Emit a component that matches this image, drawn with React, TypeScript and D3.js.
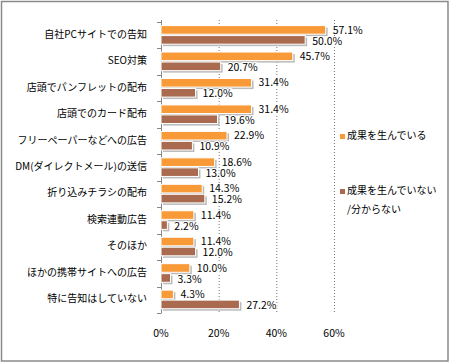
import React from "react";
import * as d3 from "d3";

const categories = [
  "自社PCサイトでの告知",
  "SEO対策",
  "店頭でパンフレットの配布",
  "店頭でのカード配布",
  "フリーペーパーなどへの広告",
  "DM(ダイレクトメール)の送信",
  "折り込みチラシの配布",
  "検索連動広告",
  "そのほか",
  "ほかの携帯サイトへの広告",
  "特に告知はしていない",
];
const seriesA = [57.1, 45.7, 31.4, 31.4, 22.9, 18.6, 14.3, 11.4, 11.4, 10.0, 4.3];
const seriesB = [50.0, 20.7, 12.0, 19.6, 10.9, 13.0, 15.2, 2.2, 12.0, 3.3, 27.2];
const seriesNames = ["成果を生んでいる", "成果を生んでいない", "/分からない"];
const xTicks = [0, 20, 40, 60];

const W = 450;
const H = 363;
const colorA = "#F89A38";
const colorB = "#A96A4F";
const FONT = "'Noto Sans CJK JP', sans-serif";

export default function App() {
  const x = d3.scaleLinear().domain([0, 60]).range([161, 334]);
  const y = d3.scaleBand<number>().domain(d3.range(categories.length)).range([22, 313]);
  const bw = y.bandwidth();
  const barH = 8.6;
  const gap = 1.4;
  const off = bw * 0.135;

  return (
    <svg width={W} height={H} style={{ position: "absolute", left: 0, top: 0 }}>
      <rect x={0} y={0} width={W} height={H} fill="#fff" />
      <rect x={1.5} y={1.5} width={446.5} height={359.5} fill="none" stroke="#8a8a8a" strokeWidth={1.5} />
      {/* gridlines */}
      {xTicks.slice(1).map((t) => (
        <line key={t} x1={x(t) + 0.5} x2={x(t) + 0.5} y1={20} y2={313} stroke="#777" strokeDasharray="1,2" />
      ))}
      {/* axis */}
      <line x1={161.5} x2={161.5} y1={20} y2={313} stroke="#888" />
      {d3.range(categories.length + 1).map((i) => {
        const yy = i < categories.length ? y(i)! : 313;
        return <line key={i} x1={157} x2={161.5} y1={Math.round(yy) + 0.5} y2={Math.round(yy) + 0.5} stroke="#888" />;
      })}
      {/* bars */}
      {categories.map((c, i) => {
        const y0 = y(i)! + off;
        const y1 = y0 + barH + gap;
        return (
          <g key={c}>
            <rect x={x(0) + 2} y={y0 + 2} width={x(seriesA[i]) - x(0)} height={barH} fill="#bbb" />
            <rect x={x(0) + 2} y={y1 + 2} width={x(seriesB[i]) - x(0)} height={barH} fill="#bbb" />
            <rect x={x(0)} y={y0} width={x(seriesA[i]) - x(0)} height={barH} fill={colorA} stroke="#fff" strokeWidth={1} />
            <rect x={x(0)} y={y1} width={x(seriesB[i]) - x(0)} height={barH} fill={colorB} stroke="#fff" strokeWidth={1} />
            <text
              x={x(seriesA[i]) + 7}
              y={y0 + barH / 2}
              dy="0.35em"
              fontSize={10.5}
              fontFamily={FONT}
              fill="#000"
              stroke="#fff"
              strokeWidth={2}
              paintOrder="stroke"
            >
              {seriesA[i].toFixed(1)}%
            </text>
            <text
              x={x(seriesB[i]) + 7}
              y={y1 + barH / 2 + 1}
              dy="0.35em"
              fontSize={10.5}
              fontFamily={FONT}
              fill="#000"
              stroke="#fff"
              strokeWidth={2}
              paintOrder="stroke"
            >
              {seriesB[i].toFixed(1)}%
            </text>
            <text x={147} y={y(i)! + bw / 2 - 1} dy="0.35em" textAnchor="end" fontSize={10} fontFamily={FONT} fill="#000">
              {c}
            </text>
          </g>
        );
      })}
      {/* x tick labels */}
      {xTicks.map((t) => (
        <text key={t} x={x(t)} y={333} dy="0.35em" textAnchor="middle" fontSize={10.5} fontFamily={FONT} fill="#000">
          {t}%
        </text>
      ))}
      {/* legend */}
      <rect x={340} y={134} width={5} height={5} fill={colorA} />
      <text x={347} y={139} dy="0.0em" fontSize={10} fontFamily={FONT} fill="#000">
        {seriesNames[0]}
      </text>
      <rect x={340} y={189} width={5} height={5} fill={colorB} />
      <text x={347} y={194} fontSize={10} fontFamily={FONT} fill="#000">
        {seriesNames[1]}
      </text>
      <text x={347} y={213} fontSize={10} fontFamily={FONT} fill="#000">
        {seriesNames[2]}
      </text>
    </svg>
  );
}
